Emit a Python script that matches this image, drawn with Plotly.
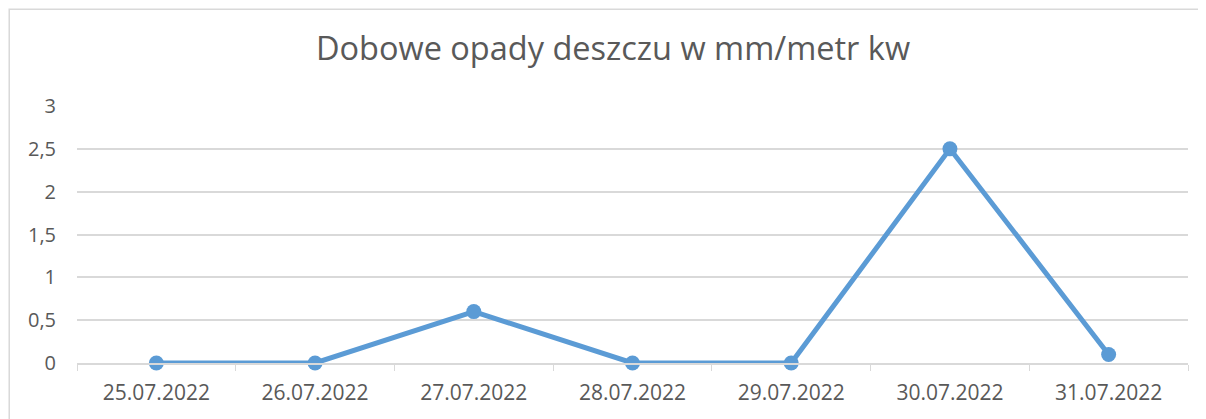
import plotly.graph_objects as go

dates = ["25.07.2022", "26.07.2022", "27.07.2022", "28.07.2022",
         "29.07.2022", "30.07.2022", "31.07.2022"]
rain_mm = [0, 0, 0.6, 0, 0, 2.5, 0.1]
title_text = "Dobowe opady deszczu w mm/metr kw"

fig = go.Figure()
fig.add_trace(go.Scatter(
    x=dates, y=rain_mm, mode="lines+markers",
    line=dict(color="#5B9BD5", width=5),
    marker=dict(color="#5B9BD5", size=15),
    cliponaxis=False,
))

grid = "#D9D9D9"
fig.update_layout(
    width=1198, height=411,
    margin=dict(l=69, r=18, t=98, b=56),
    paper_bgcolor="white", plot_bgcolor="white",
    separators=", ",
    showlegend=False,
    font=dict(family="Open Sans, sans-serif", color="#595959", size=20),
    title=dict(text=title_text, x=0.505, xanchor="center", y=0.9, yanchor="middle",
               font=dict(size=32.5, color="#595959")),
    xaxis=dict(type="category", tickson="boundaries", ticks="outside", ticklen=6,
               tickcolor=grid, showline=True, linecolor=grid, linewidth=1.5,
               showgrid=False, range=[-0.5, 6.5], ticklabelstandoff=10,
               tickfont=dict(size=21)),
    yaxis=dict(range=[0, 3], dtick=0.5, showgrid=True, gridcolor=grid, gridwidth=1.5,
               zeroline=False, showline=False, ticks="", ticklabelstandoff=20,
               tickfont=dict(size=20)),
    shapes=[dict(type="rect", xref="paper", yref="paper",
                 x0=-0.061, x1=1.2, y0=-0.6, y1=1.376,
                 line=dict(color=grid, width=1.5), layer="below")],
)

fig.write_html("out.html")
